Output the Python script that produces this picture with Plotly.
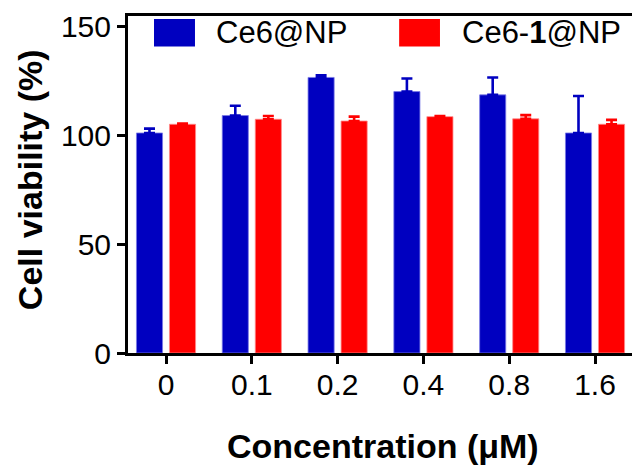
import plotly.graph_objects as go

# Concentrations (µM) shown as categories
concentrations = ["0", "0.1", "0.2", "0.4", "0.8", "1.6"]

# Cell viability (%) and upper error (SD) per group
ce6_np_viability = [101, 109, 126.5, 120, 118.5, 101]
ce6_np_error = [2, 4.5, 1, 6, 8, 17]
ce6_1_np_viability = [105, 107.3, 106.5, 108.5, 107.5, 105]
ce6_1_np_error = [0.3, 1.5, 2, 0.3, 1.7, 2]

y_tick_values = [0, 50, 100, 150]

BLUE = "#0000C0"
RED = "#FF0000"
FONT = "Arial, Liberation Sans, sans-serif"

fig = go.Figure()

fig.add_trace(go.Bar(
    x=concentrations, y=ce6_np_viability, name="Ce6@NP",
    marker=dict(color=BLUE, line=dict(color="#7a7ae6", width=0.8)),
    error_y=dict(type="data", array=ce6_np_error, arrayminus=[0] * len(ce6_np_error),
                 symmetric=False, color=BLUE, thickness=2.6, width=5.5),
    showlegend=False,
))
fig.add_trace(go.Bar(
    x=concentrations, y=ce6_1_np_viability, name="Ce6-1@NP",
    marker=dict(color=RED, line=dict(color="#ff8a8a", width=0.8)),
    error_y=dict(type="data", array=ce6_1_np_error, arrayminus=[0] * len(ce6_1_np_error),
                 symmetric=False, color=RED, thickness=2.6, width=5.5),
    showlegend=False,
))

# Legend drawn as swatches + labels inside the top of the plot
legend_items = [
    (BLUE, "Ce6@NP", 0.0516, 0.1329, 0.1706),
    (RED, "Ce6-<b>1</b>@NP", 0.538, 0.619, 0.6587),
]
for color, label, x0, x1, xt in legend_items:
    fig.add_shape(type="rect", xref="paper", yref="paper",
                  x0=x0, x1=x1, y0=0.9095, y1=0.991,
                  fillcolor=color, line=dict(width=0), layer="above")
    fig.add_annotation(text=label, xref="paper", yref="paper", x=xt, y=0.9496,
                       xanchor="left", yanchor="middle", showarrow=False,
                       font=dict(family=FONT, size=31, color="black"))

# Axis titles
fig.add_annotation(text="<b>Concentration (μM)</b>", xref="paper", yref="paper",
                   x=0.506, y=-0.276, xanchor="center", yanchor="middle",
                   showarrow=False, font=dict(family=FONT, size=34, color="black"))
fig.add_annotation(text="<b>Cell viability (%)</b>", xref="paper", yref="paper",
                   x=-0.1944, y=0.513, xanchor="center", yanchor="middle",
                   textangle=-90, showarrow=False,
                   font=dict(family=FONT, size=34, color="black"))

fig.update_layout(
    width=632, height=466,
    margin=dict(l=128, r=0, t=16, b=113),
    paper_bgcolor="white", plot_bgcolor="white",
    barmode="group", bargap=0.23, bargroupgap=0.21,
    font=dict(family=FONT, color="black"),
)
fig.update_xaxes(
    type="category", range=[-0.443, 5.431],
    showline=True, linecolor="black", linewidth=3, mirror=True,
    ticks="outside", ticklen=8, tickwidth=3, tickcolor="black",
    tickfont=dict(family=FONT, size=30, color="black"),
    ticklabelstandoff=-5,
    showgrid=False, zeroline=False,
)
fig.update_yaxes(
    range=[0, 154.7], tickvals=y_tick_values,
    showline=True, linecolor="black", linewidth=3, mirror=False,
    ticks="outside", ticklen=8, tickwidth=3, tickcolor="black",
    tickfont=dict(family=FONT, size=30, color="black"),
    showgrid=False, zeroline=False,
)

fig.write_html("out.html")
